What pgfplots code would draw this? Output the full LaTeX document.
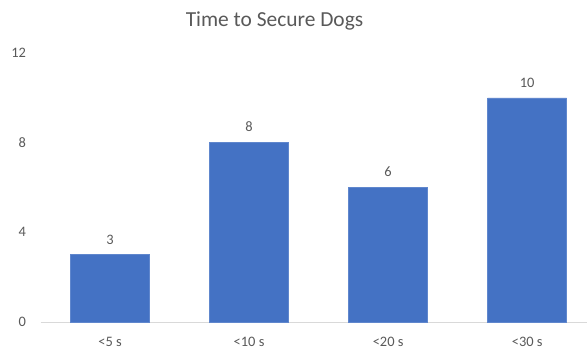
\documentclass[border=0pt]{standalone}
\usepackage{pgfplots}
\pgfplotsset{compat=1.18}
\usepackage{fontspec}
\setmainfont{Carlito}
\definecolor{barblue}{HTML}{4472C4}
\definecolor{txtgray}{HTML}{595959}
\definecolor{axgray}{HTML}{D9D9D9}
\begin{document}
\begin{tikzpicture}[x=1bp,y=1bp]
\useasboundingbox (0,0) rectangle (587,351);
\begin{axis}[
  at={(40.5bp,29bp)}, anchor=south west,
  scale only axis,
  width=546.5bp, height=269bp,
  xmin=-0.5, xmax=3.43,
  ymin=0, ymax=12,
  ytick={0,4,8,12},
  xtick=data,
  xticklabels={{<5 s},{<10 s},{<20 s},{<30 s}},
  axis x line*=bottom, axis y line*=left,
  x axis line style={draw=axgray, line width=0.9bp},
  y axis line style={draw=none},
  major tick length=0pt,
  tick style={draw=none},
  ticklabel style={font=\fontsize{14.5}{16}\selectfont, text=txtgray},
  /pgf/number format/assume math mode=true,
  yticklabel style={xshift=-11bp},
  xticklabel style={yshift=-12bp},
  ybar, bar width=79bp,
  clip=false,
  nodes near coords,
  nodes near coords style={font=\fontsize{14.5}{16}\selectfont, text=txtgray, yshift=7bp},
]
\addplot[fill=barblue, draw=barblue!85!white, line width=0.6bp] coordinates {(0,3) (1,8) (2,6) (3,10)};
\end{axis}
\node[font=\fontsize{21.5}{24}\selectfont, text=txtgray, anchor=base] at (274.5,325) {Time to Secure Dogs};
\end{tikzpicture}
\end{document}
